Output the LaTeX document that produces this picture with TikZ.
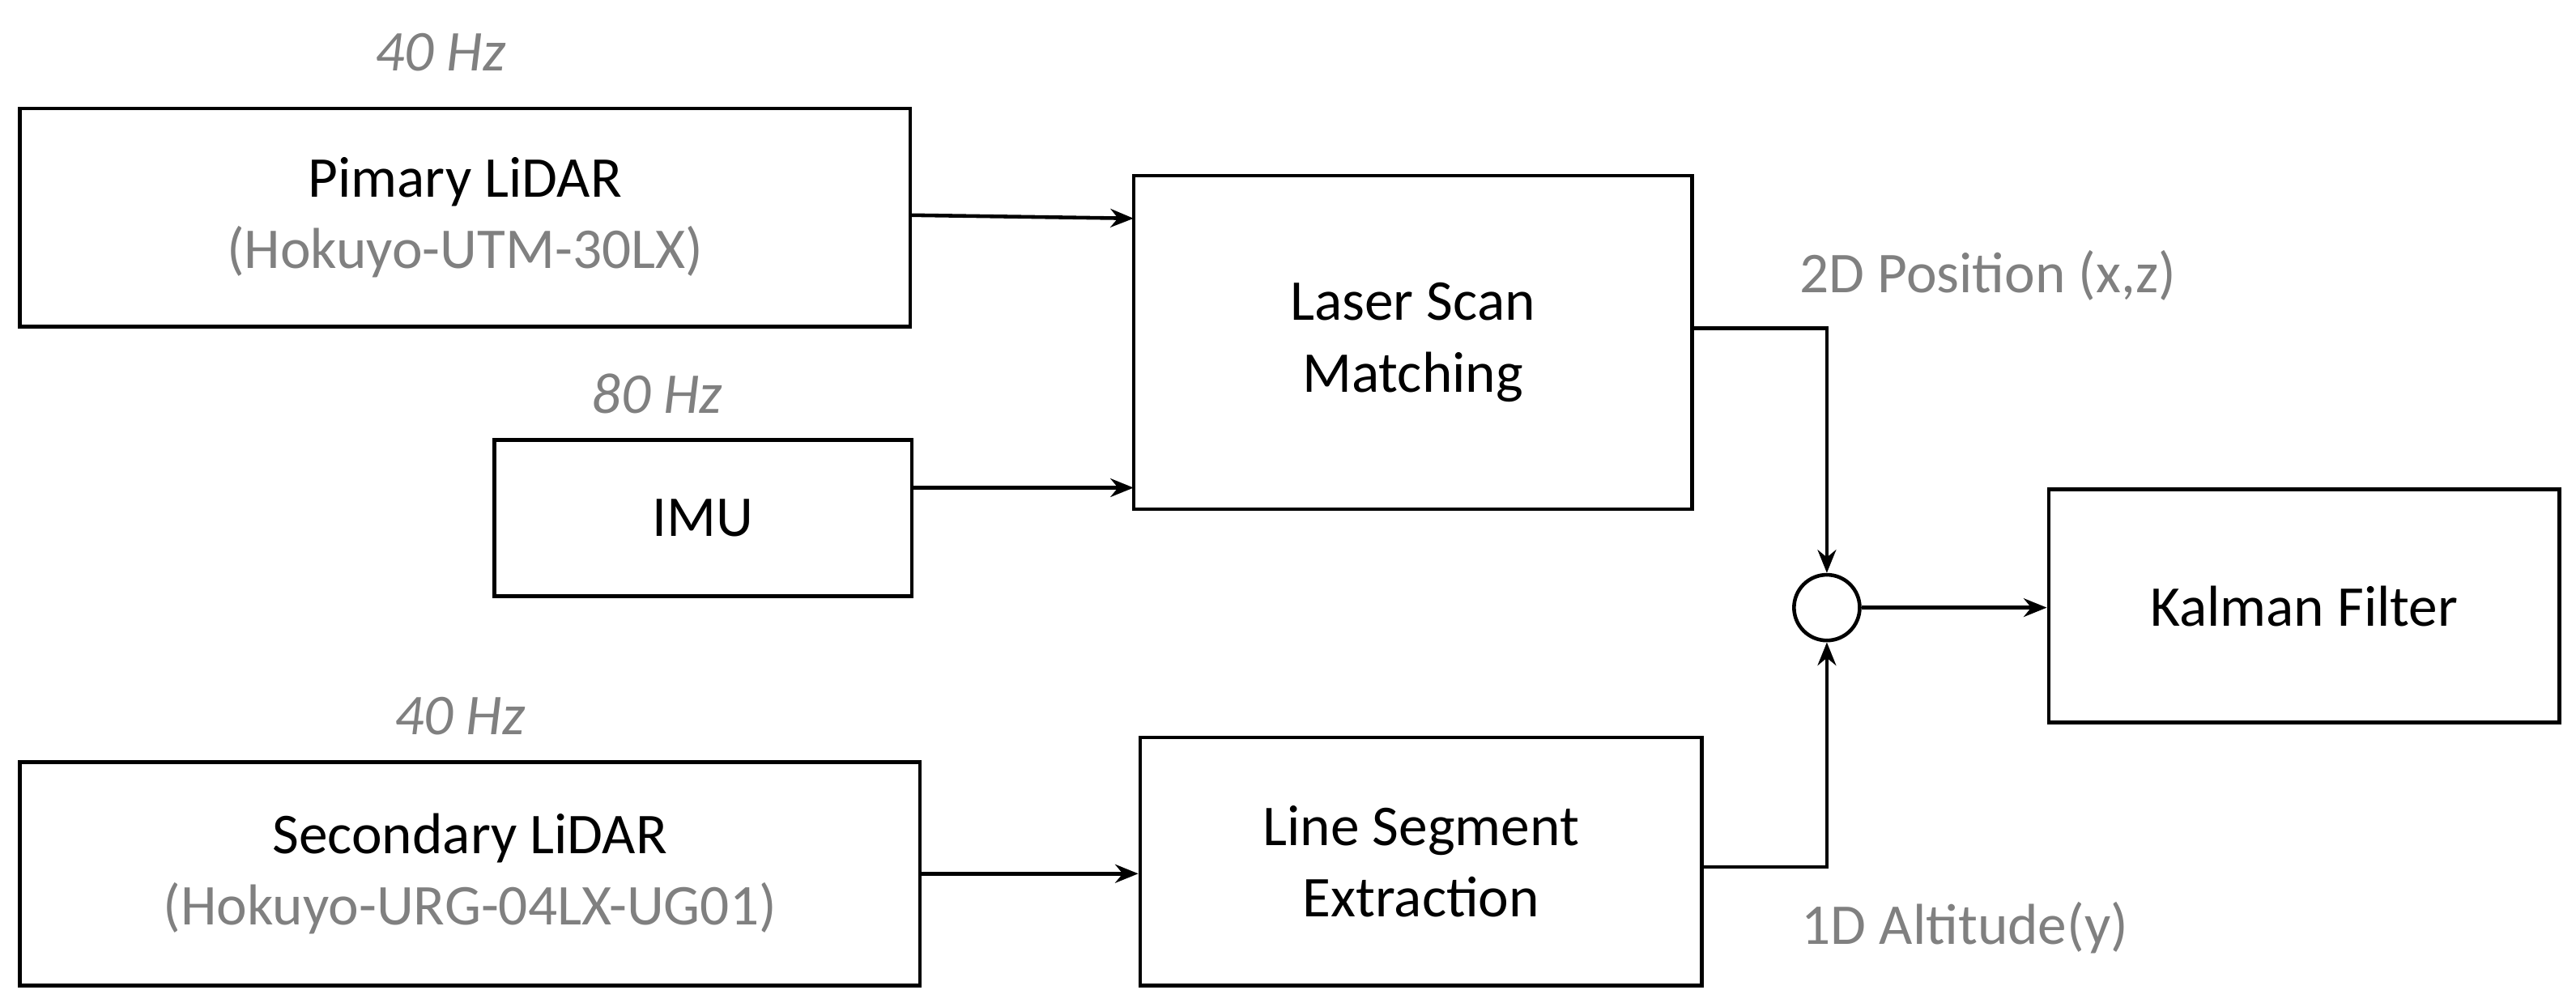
\documentclass[tikz,border=0pt]{standalone}
\usepackage{fontspec}
\setmainfont{Carlito}
\usetikzlibrary{arrows.meta}
\definecolor{gr}{RGB}{128,128,128}
\begin{document}
\begin{tikzpicture}[x=0.025cm,y=-0.025cm,
  box/.style={draw,line width=1.6pt,inner sep=0pt,align=center,font=\fontsize{25}{31}\selectfont},
  hz/.style={text=gr,font=\fontsize{25}{30}\selectfont\itshape},
  lab/.style={text=gr,font=\fontsize{25}{30}\selectfont},
  arr/.style={line width=1.6pt,-{Stealth[length=10pt,width=8pt]}}]
\useasboundingbox (0,0) rectangle (1568,613);
\node[box,minimum width=542*0.025cm,minimum height=133*0.025cm] (p) at (283,132.5) {Pimary LiDAR\\\textcolor{gr}{(Hokuyo-UTM-30LX)}};
\node[box,minimum width=254*0.025cm,minimum height=95*0.025cm] (imu) at (428,315.5) {IMU};
\node[box,minimum width=340*0.025cm,minimum height=203*0.025cm] (ls) at (860,208.5) {Laser Scan\\Matching};
\node[box,minimum width=548*0.025cm,minimum height=136*0.025cm] (s) at (286,532) {Secondary LiDAR\\\textcolor{gr}{(Hokuyo-URG-04LX-UG01)}};
\node[box,minimum width=342*0.025cm,minimum height=151*0.025cm] (le) at (865,524.5) {Line Segment\\Extraction};
\node[box,minimum width=311*0.025cm,minimum height=142*0.025cm] (k) at (1402.5,369) {Kalman Filter};
\node[draw,circle,line width=1.6pt,minimum size=40*0.025cm,inner sep=0pt] (c) at (1112,370) {};
\node[hz] (h1) at (268,32) {40 Hz};
\node[hz] (h2) at (400,240) {80 Hz};
\node[hz] (h3) at (280,436) {40 Hz};
\node[lab] (l1) at (1210,168) {2D Position (x,z)};
\node[lab] (l2) at (1196,565) {1D Altitude(y)};
\coordinate (a1) at (690,133);
\coordinate (a2) at (690,297);
\draw[arr] (554,131) -- (a1);
\draw[arr] (555,297) -- (a2);
\draw[arr] (s.east |- 0,532) -- (le.west |- 0,532);
\draw[arr] (ls.east |- 0,200) -| (c.north);
\draw[arr] (le.east |- 0,528) -| (c.south);
\draw[arr] (c.east) -- (k.west |- c.east);
\end{tikzpicture}
\end{document}
